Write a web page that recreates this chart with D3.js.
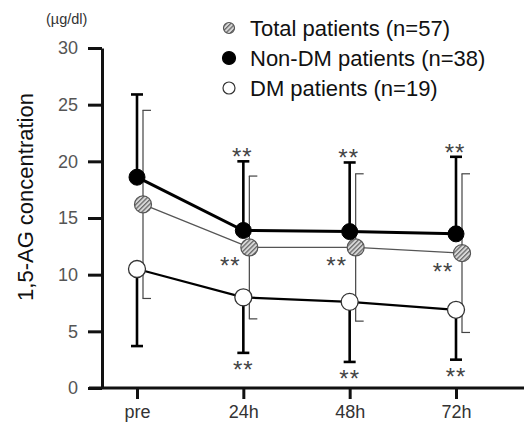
<!DOCTYPE html>
<html>
<head>
<meta charset="utf-8">
<script src="https://cdn.jsdelivr.net/npm/d3@7"></script>
<style>
  body { margin: 0; background: #fff; }
  svg { display: block; font-family: "Liberation Sans", Arial, sans-serif; }
</style>
</head>
<body>
<div id="chart"></div>
<script>
// time points and tick values
const categories = ["pre", "24h", "48h", "72h"];
const yTicks = [0, 5, 10, 15, 20, 25, 30];

// means and SD per group (µg/dl)
const nonDMMean = [18.6, 13.9, 13.8, 13.6];
const nonDMSD = [7.3, 6.1, 6.1, 6.8];
const totalMean = [16.2, 12.4, 12.4, 11.9];
const totalSD = [8.3, 6.3, 6.5, 7.0];
const dmMean = [10.5, 8.0, 7.6, 6.9];
const dmSD = [6.8, 4.9, 5.3, 4.4];

// significance marks
const nonDMSig = ["", "**", "**", "**"];
const totalSig = ["", "**", "**", "**"];
const dmSig = ["", "**", "**", "**"];

const legendLabels = ["Total patients (n=57)", "Non-DM patients (n=38)", "DM patients (n=19)"];

const W = 524, H = 426;

const svg = d3.select("#chart").append("svg")
    .attr("width", W)
    .attr("height", H);

// hatch pattern for the total group
const defs = svg.append("defs");
const pat = defs.append("pattern")
    .attr("id", "hatch")
    .attr("patternUnits", "userSpaceOnUse")
    .attr("width", 3.2)
    .attr("height", 3.2)
    .attr("patternTransform", "rotate(45)");
pat.append("rect").attr("width", 3.2).attr("height", 3.2).attr("fill", "#d8d8d8");
pat.append("rect").attr("width", 1.3).attr("height", 3.2).attr("fill", "#6a6a6a");

const x = d3.scalePoint().domain(categories).range([137, 456]);
const y = d3.scaleLinear().domain([0, 30]).range([388, 48]);

// y axis
const yAxis = svg.append("g")
    .attr("transform", "translate(102,0)")
    .call(d3.axisLeft(y).tickValues(yTicks).tickSize(14).tickSizeOuter(0).tickPadding(10));
yAxis.select(".domain").attr("stroke", "#111").attr("stroke-width", 3);
yAxis.selectAll(".tick line").attr("stroke", "#111").attr("stroke-width", 3);
yAxis.selectAll(".tick text")
    .attr("font-size", 18)
    .attr("fill", "#555")
    .attr("font-family", "Liberation Sans, Arial, sans-serif");

// x axis
svg.append("line")
    .attr("x1", 89).attr("x2", W)
    .attr("y1", y(0)).attr("y2", y(0))
    .attr("stroke", "#111").attr("stroke-width", 3);
const xAxis = svg.append("g")
    .attr("transform", `translate(0,${y(0)})`)
    .call(d3.axisBottom(x).tickSize(11).tickPadding(6));
xAxis.select(".domain").remove();
xAxis.selectAll(".tick line").attr("stroke", "#111").attr("stroke-width", 3);
xAxis.selectAll(".tick text")
    .attr("font-size", 18)
    .attr("fill", "#333")
    .attr("font-family", "Liberation Sans, Arial, sans-serif");

// axis titles
svg.append("text")
    .attr("transform", "translate(33,197) rotate(-90)")
    .attr("text-anchor", "middle")
    .attr("font-size", 22)
    .attr("fill", "#111")
    .text("1,5-AG  concentration");

svg.append("text")
    .attr("x", 46).attr("y", 24)
    .attr("font-size", 14.5)
    .attr("fill", "#333")
    .text("(µg/dl)");

const series = [
  { mean: totalMean, sd: totalSD, sig: totalSig, dx: 6, fill: "url(#hatch)", stroke: "#555", sw: 1.2,
    lineColor: "#555", lineW: 1.3, barW: 1.2, barColor: "#444", up: true, down: true, halfCap: true, r: 8.5 },
  { mean: nonDMMean, sd: nonDMSD, sig: nonDMSig, dx: 0, fill: "#000", stroke: "#000", sw: 1,
    lineColor: "#000", lineW: 3, barW: 2.6, barColor: "#000", up: true, down: false, halfCap: false, r: 8 },
  { mean: dmMean, sd: dmSD, sig: dmSig, dx: 0, fill: "#fff", stroke: "#333", sw: 1.3,
    lineColor: "#000", lineW: 2.2, barW: 2.6, barColor: "#000", up: false, down: true, halfCap: false, r: 8.5 }
];

const px = (s, i) => x(categories[i]) + s.dx;

// error bars
series.forEach(s => {
  const g = svg.append("g");
  s.mean.forEach((m, i) => {
    const cx = px(s, i);
    const top = s.up ? y(m + s.sd[i]) : y(m);
    const bot = s.down ? y(m - s.sd[i]) : y(m);
    g.append("line")
        .attr("x1", cx).attr("x2", cx).attr("y1", top).attr("y2", bot)
        .attr("stroke", s.barColor).attr("stroke-width", s.barW);
    const caps = [];
    if (s.up) caps.push(top);
    if (s.down) caps.push(bot);
    caps.forEach(cy => {
      g.append("line")
          .attr("x1", s.halfCap ? cx - 0.5 : cx - 6)
          .attr("x2", s.halfCap ? cx + 8 : cx + 6)
          .attr("y1", cy).attr("y2", cy)
          .attr("stroke", s.barColor).attr("stroke-width", s.barW);
    });
  });
});

// connecting lines
const line = d3.line();
series.forEach(s => {
  svg.append("path")
      .attr("d", line(s.mean.map((m, i) => [px(s, i), y(m)])))
      .attr("fill", "none")
      .attr("stroke", s.lineColor)
      .attr("stroke-width", s.lineW);
});

// markers
series.forEach(s => {
  svg.append("g").selectAll("circle")
      .data(s.mean)
      .join("circle")
      .attr("cx", (d, i) => px(s, i))
      .attr("cy", d => y(d))
      .attr("r", s.r)
      .attr("fill", s.fill)
      .attr("stroke", s.stroke)
      .attr("stroke-width", s.sw);
});

// significance stars
const starStyle = t => t.attr("font-size", 24).attr("fill", "#444")
    .attr("text-anchor", "middle").attr("letter-spacing", 1);
// non-DM: above the upper cap
starStyle(svg.append("g").selectAll("text").data(nonDMMean).join("text"))
    .attr("x", (d, i) => px(series[1], i) - 1)
    .attr("y", (d, i) => y(d + nonDMSD[i]) + 4)
    .text((d, i) => nonDMSig[i]);
// total: lower left of the marker
starStyle(svg.append("g").selectAll("text").data(totalMean).join("text"))
    .attr("x", (d, i) => px(series[0], i) - 19)
    .attr("y", (d, i) => y(d) + 27)
    .text((d, i) => totalSig[i]);
// DM: below the lower cap
starStyle(svg.append("g").selectAll("text").data(dmMean).join("text"))
    .attr("x", (d, i) => px(series[2], i))
    .attr("y", (d, i) => y(d - dmSD[i]) + 25)
    .text((d, i) => dmSig[i]);

// legend
const legend = svg.append("g");
const legendRows = [
  { fill: "url(#hatch)", stroke: "#555", r: 5.5 },
  { fill: "#000", stroke: "#000", r: 6.5 },
  { fill: "#fff", stroke: "#333", r: 6 }
];
legendLabels.forEach((lab, i) => {
  const cy = 28 + i * 30;
  legend.append("circle")
      .attr("cx", 229).attr("cy", cy)
      .attr("r", legendRows[i].r)
      .attr("fill", legendRows[i].fill)
      .attr("stroke", legendRows[i].stroke)
      .attr("stroke-width", 1.2);
  legend.append("text")
      .attr("x", 250).attr("y", cy + 7.5)
      .attr("font-size", 22)
      .attr("fill", "#111")
      .text(lab);
});
</script>
</body>
</html>
